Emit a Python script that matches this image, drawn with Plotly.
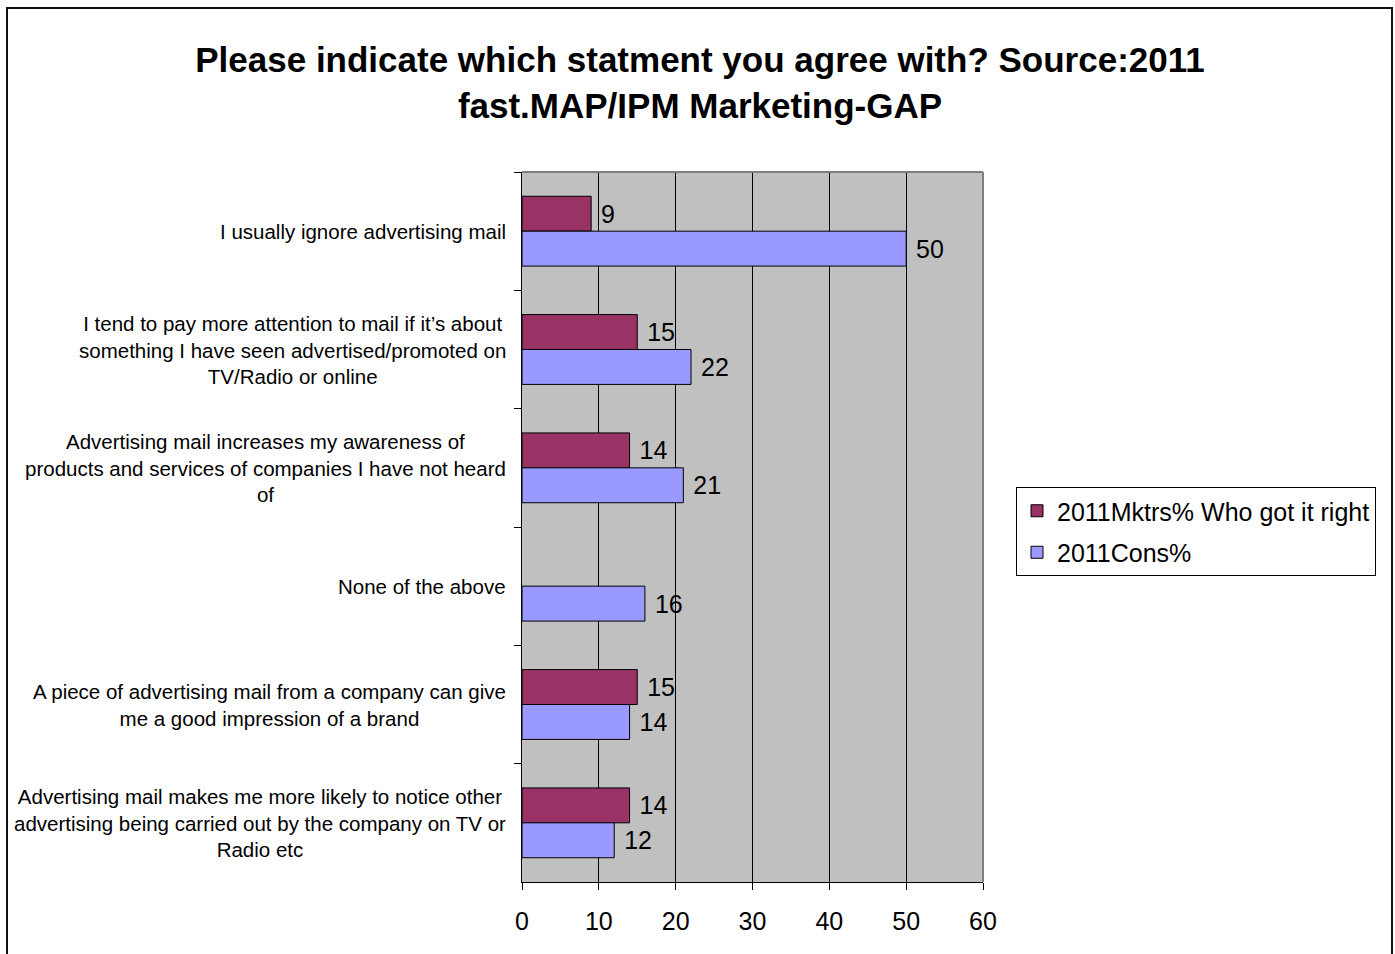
import plotly.graph_objects as go

# Survey statements (top to bottom) and their wrapped display labels
categories = [
    "I usually ignore advertising mail",
    "I tend to pay more attention to mail if it’s about something I have seen advertised/promoted on TV/Radio or online",
    "Advertising mail increases my awareness of products and services of companies I have not heard of",
    "None of the above",
    "A piece of advertising mail from a company can give me a good impression of a brand",
    "Advertising mail makes me more likely to notice other advertising being carried out by the company on TV or Radio etc",
]
category_labels = [
    "I usually ignore advertising mail",
    "I tend to pay more attention to mail if it’s about<br>something I have seen advertised/promoted on<br>TV/Radio or online",
    "Advertising mail increases my awareness of<br>products and services of companies I have not heard<br>of",
    "None of the above",
    "A piece of advertising mail from a company can give<br>me a good impression of a brand",
    "Advertising mail makes me more likely to notice other<br>advertising being carried out by the company on TV or<br>Radio etc",
]

series_names = ["2011Mktrs% Who got it right", "2011Cons%"]
mktrs_values = [9, 15, 14, None, 15, 14]
cons_values = [50, 22, 21, 16, 14, 12]
x_ticks = [0, 10, 20, 30, 40, 50, 60]

title_text = ("Please indicate which statment you agree with? Source:2011<br>"
              "fast.MAP/IPM Marketing-GAP")

FONT = "Liberation Sans, Arial, sans-serif"
W, H = 1395, 954
L, R, T, B = 522, 983, 172, 882  # plot area in pixels


def px_x(px):
    return (px - L) / (R - L)


def px_y(py):
    return (B - py) / (B - T)


fig = go.Figure()
for name, vals, color, grp in [
    (series_names[0], mktrs_values, "#993366", "a"),
    (series_names[1], cons_values, "#9999FF", "b"),
]:
    fig.add_trace(go.Bar(
        y=categories, x=vals, name=name, orientation="h",
        marker=dict(color=color, line=dict(color="black", width=1)),
        texttemplate=" %{x}",
        textposition="outside",
        textfont=dict(family=FONT, size=25, color="black"),
        cliponaxis=False, legendgroup=grp,
    ))

# Category labels, centred line by line to the left of the axis
for cat, lab in zip(categories, category_labels):
    fig.add_annotation(
        x=0, xref="paper", y=cat, yref="y", text=lab, showarrow=False,
        xanchor="right", yanchor="middle", align="center", xshift=-14,
        font=dict(family=FONT, size=20.5, color="black"),
    )

shapes = [
    # outer chart border
    dict(type="rect", xref="paper", yref="paper",
         x0=px_x(7), x1=px_x(1392), y0=px_y(970), y1=px_y(8),
         line=dict(color="#111111", width=2), layer="above"),
    # top and right edges of the plot area
    dict(type="line", xref="paper", yref="paper", x0=0, x1=1, y0=1, y1=1,
         line=dict(color="#808080", width=2), layer="above"),
    dict(type="line", xref="paper", yref="paper", x0=1, x1=1, y0=0, y1=1,
         line=dict(color="#808080", width=2), layer="above"),
]

fig.update_layout(
    width=W, height=H,
    margin=dict(l=L, r=W - R, t=T, b=H - B, pad=0),
    paper_bgcolor="white", plot_bgcolor="#C0C0C0",
    barmode="group", bargap=0.41, bargroupgap=0,
    font=dict(family=FONT, color="black"),
    title=dict(text=title_text, x=700 / W, xref="container", xanchor="center",
               y=1 - 72 / H, yref="container", yanchor="middle",
               font=dict(family=FONT, size=35, color="black", weight="bold")),
    legend=dict(x=px_x(1016), y=px_y(487), xanchor="left", yanchor="top",
                bgcolor="white", bordercolor="black", borderwidth=1,
                font=dict(family=FONT, size=25, color="black"),
                tracegroupgap=6, traceorder="grouped"),
    shapes=shapes,
    showlegend=True,
)
fig.update_xaxes(
    range=[0, 60], tickvals=x_ticks, ticks="outside", ticklen=7,
    tickcolor="black", showgrid=True, gridcolor="black", gridwidth=1,
    showline=True, linecolor="black", linewidth=1, zeroline=False,
    ticklabelstandoff=10,
    tickfont=dict(family=FONT, size=25, color="black"), fixedrange=True,
)
fig.update_yaxes(
    autorange="reversed", showticklabels=False, tickson="boundaries",
    ticks="outside", ticklen=7, tickcolor="black", showgrid=False,
    showline=True, linecolor="black", linewidth=1, fixedrange=True,
)

fig.write_html("out.html")
